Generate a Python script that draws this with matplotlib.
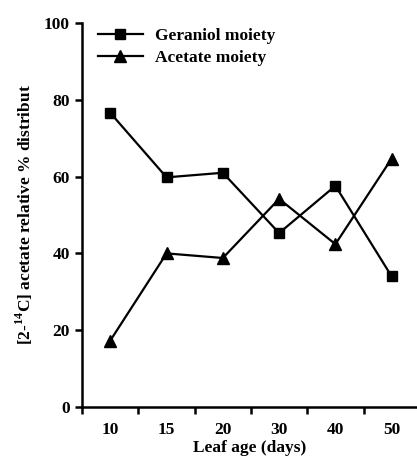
import numpy as np
import matplotlib
matplotlib.use("Agg")
import matplotlib.pyplot as plt

plt.rcParams['font.family'] = ['Liberation Serif', 'DejaVu Serif']
plt.rcParams['mathtext.fontset'] = 'custom'
plt.rcParams['mathtext.rm'] = 'Liberation Serif'
plt.rcParams['mathtext.bf'] = 'Liberation Serif:bold'

leaf_age = ['10', '15', '20', '30', '40', '50']
geraniol = [76.6, 59.8, 61.0, 45.3, 57.6, 34.0]
acetate = [17.3, 40.0, 38.8, 54.2, 42.4, 64.7]

fs = 12.5
fig = plt.figure(figsize=(4.17, 4.57), dpi=100)
ax = fig.add_axes([0.197, 0.1094, 0.803, 0.8403])

x = np.arange(len(leaf_age))
ax.plot(x, geraniol, color='black', lw=1.6, marker='s', markersize=7.5,
        label='Geraniol moiety', clip_on=False)
ax.plot(x, acetate, color='black', lw=1.6, marker='^', markersize=8.5,
        label='Acetate moiety', clip_on=False)

ax.set_xlim(-0.5, 5.45)
ax.set_ylim(0, 100)
ax.set_xticks(x)
ax.set_xticklabels(leaf_age)
ax.set_xticks(np.arange(len(leaf_age)) - 0.5, minor=True)
ax.tick_params(axis='x', which='major', length=0, labelsize=fs, pad=11)
ax.tick_params(axis='x', which='minor', length=5, width=1.8, direction='out')
ax.set_yticks([0, 20, 40, 60, 80, 100])
ax.tick_params(axis='y', length=5, width=1.8, direction='out', labelsize=fs, pad=4)
for lab in ax.get_xticklabels() + ax.get_yticklabels():
    lab.set_fontweight('bold')

for s in ['top', 'right']:
    ax.spines[s].set_visible(False)
for s in ['left', 'bottom']:
    ax.spines[s].set_linewidth(1.8)

ax.set_xlabel('Leaf age (days)', fontsize=fs, fontweight='bold', labelpad=1)
ax.set_ylabel(r'[2-$^{\mathbf{14}}$C] acetate relative % distribut',
              fontsize=fs, fontweight='bold', labelpad=6)

leg = ax.legend(loc='upper left', bbox_to_anchor=(0.01, 1.02), frameon=False,
                fontsize=fs, handlelength=2.6, handletextpad=0.7,
                labelspacing=0.35, borderaxespad=0.3)
for t in leg.get_texts():
    t.set_fontweight('bold')

fig.savefig('out.png', dpi=100)
